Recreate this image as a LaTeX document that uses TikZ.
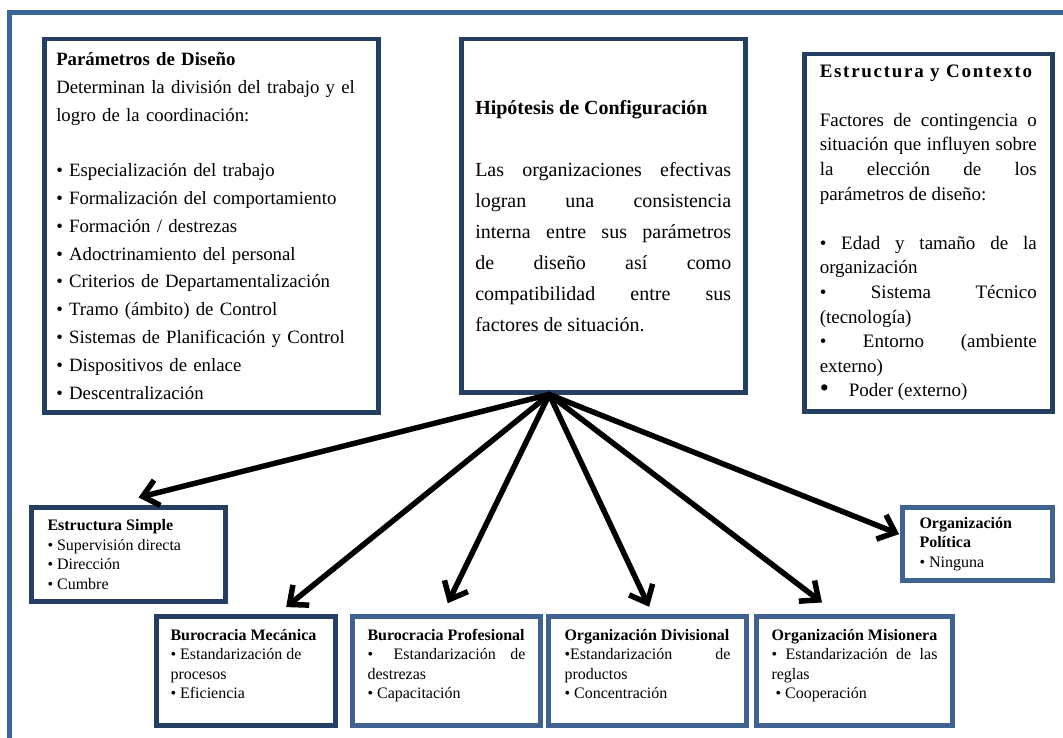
\documentclass[tikz,border=0pt]{standalone}
\usepackage{fontspec}
\setmainfont{Liberation Serif}
\usetikzlibrary{arrows.meta}
\definecolor{frameblue}{HTML}{3A6599}
\definecolor{navyline}{HTML}{243F62}
\definecolor{steelline}{HTML}{3F6291}
\tikzset{
  panel/.style={draw=navyline, line width=4.5pt, fill=white, anchor=north west, inner sep=0pt},
  typebox/.style={panel, line width=5pt, minimum height=109pt, align=justify, font=\fontsize{16}{19.5}\selectfont},
  fan/.style={line width=5.5pt, line cap=round, line join=round, -{Straight Barb[length=15pt,width=26pt]}}
}
\newcommand{\raiselines}{\\[-5.5pt]\mbox{}}

\begin{document}
\begin{tikzpicture}[x=1pt,y=-1pt]
\useasboundingbox (0,0) rectangle (1063,738);
\clip (0,0) rectangle (1063,738);
\draw[frameblue, line width=5pt] (9.5,760) |- (1090,12.5);

\node[panel, minimum width=334pt, minimum height=373pt, text width=310pt, align=left, font=\fontsize{18.8}{27.8}\selectfont] (param) at (42,37)
  {\textbf{Parámetros de Diseño}\\
   Determinan la división del trabajo y el\\
   logro de la coordinación:\\[\baselineskip]
   • Especialización del trabajo\\
   • Formalización del comportamiento\\
   • Formación / destrezas\\
   • Adoctrinamiento del personal\\
   • Criterios de Departamentalización\\
   • Tramo (ámbito) de Control\\
   • Sistemas de Planificación y Control\\
   • Dispositivos de enlace\\
   • Descentralización};

\node[panel, minimum width=284pt, minimum height=353pt, text width=256pt, align=justify, font=\fontsize{20}{31}\selectfont] (hyp) at (459,37)
  {\textbf{Hipótesis de Configuración}\\[\baselineskip]
   Las organizaciones efectivas\linebreak
   logran una consistencia\linebreak
   interna entre sus parámetros\linebreak
   de diseño así como\linebreak
   compatibilidad entre sus\linebreak
   factores de situación.};

\node[panel, minimum width=248pt, minimum height=357pt, text width=217pt, align=justify, font=\fontsize{19}{24.6}\selectfont] (context) at (802,52)
  {{\bfseries\addfontfeatures{LetterSpace=9}Estructura y Contexto}\\[\baselineskip]
   Factores de contingencia o\linebreak
   situación que influyen sobre\linebreak
   la elección de los\linebreak
   parámetros de diseño:\\[\baselineskip]
   • Edad y tamaño de la\linebreak
   organización\\
   • Sistema Técnico\linebreak
   (tecnología)\\
   • Entorno (ambiente\linebreak
   externo)\\
   {\fontsize{26}{24.6}\selectfont•}\hspace{20pt}Poder (externo)};

\node[typebox, minimum width=194pt, minimum height=94pt, text width=162pt] (simple) at (29,505)
  {\textbf{Estructura Simple}\\
   • Supervisión directa\\
   • Dirección\\
   • Cumbre};

\node[typebox, minimum width=179pt, text width=151pt] (meca) at (154,614)
  {\textbf{Burocracia Mecánica}\\
   • Estandarización de\\
   procesos\\
   • Eficiencia\raiselines};

\node[typebox, draw=steelline, minimum width=188pt, text width=158pt] (prof) at (350,614)
  {\textbf{Burocracia Profesional}\\
   •\hspace{6pt} Estandarización de\linebreak
   destrezas\\
   • Capacitación\raiselines};

\node[typebox, draw=steelline, minimum width=198pt, text width=166pt] (divi) at (546,614)
  {\textbf{Organización Divisional}\\
   •Estandarización de\linebreak
   productos\\
   • Concentración\raiselines};

\node[typebox, draw=steelline, minimum width=196pt, text width=166pt] (misi) at (754,614)
  {\textbf{Organización Misionera}\\
   • Estandarización de las\linebreak
   reglas\\
   \hspace*{4pt}• Cooperación\raiselines};

\node[typebox, draw=steelline, minimum width=150pt, minimum height=73pt, text width=116pt] (poli) at (900,505)
  {\textbf{Organización\\ Política}\\
   • Ninguna};

\coordinate (hub) at ([xshift=-54pt]hyp.south);
\draw[fan, shorten >=31pt] (hub) -- (simple.112);
\draw[fan, shorten >=11pt] (hub) -- (meca.61);
\draw[fan, shorten >=12pt] (hub) -- (prof.94);
\draw[fan, shorten >=8pt] (hub) -- (divi.85);
\draw[fan, shorten >=19pt] (hub) -- (misi.107);
\draw[fan, shorten >=1pt] (hub) -- (poli.173);
\end{tikzpicture}
\end{document}
